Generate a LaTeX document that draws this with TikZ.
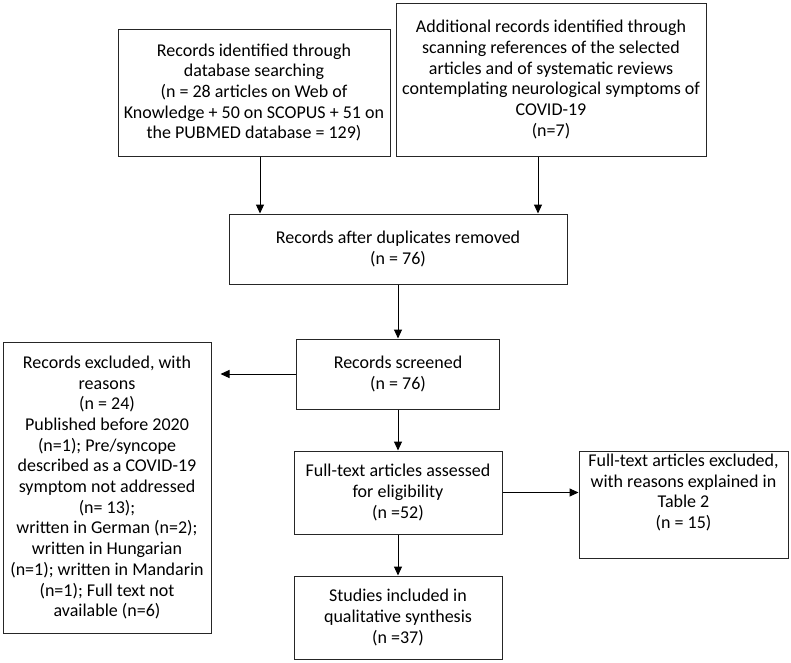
\documentclass[tikz,border=0pt]{standalone}
\usepackage{fontspec}
\setmainfont{Carlito}
\usetikzlibrary{arrows.meta}

\begin{document}
\begin{tikzpicture}[x=1pt, y=-1pt] %Flow diagram
	\tikzstyle{box} = [rectangle, draw=black!85, line width=1pt, align=center, inner sep=0pt, font=\fontsize{18}{20.7}\selectfont]
	\tikzstyle{arrow} = [-{Triangle[length=9pt,width=8pt]}, line width=1pt]
	\useasboundingbox (0,0) rectangle (791,662);
	\node[box, minimum width=272pt, minimum height=127pt] (A) at (254,92.5) {Records identified through\\database searching\\(n = 28 articles on Web of\\Knowledge + 50 on SCOPUS + 51 on\\the PUBMED database = 129)};
	\node[box, minimum width=310pt, minimum height=153pt] (B) at (551,79.5) {Additional records identified through\\scanning references of the selected\\articles and of systematic reviews\\contemplating neurological symptoms of\\COVID-19\\(n=7)};
	\node[box, minimum width=338pt, minimum height=70pt] (C) at (398,249) {Records after duplicates removed\\(n = 76)};
	\node[box, minimum width=203pt, minimum height=70pt] (D) at (398,374) {Records screened\\(n = 76)};
	\node[box, minimum width=208pt, minimum height=291pt] (E) at (107,487.5) {Records excluded, with\\reasons\\(n = 24)\\Published before 2020\\(n=1); Pre/syncope\\described as a COVID-19\\symptom not addressed\\(n= 13);\\written in German (n=2);\\written in Hungarian\\(n=1); written in Mandarin\\(n=1); Full text not\\available (n=6)};
	\node[box, minimum width=208pt, minimum height=83pt] (F) at (398,492.5) {Full-text articles assessed\\for eligibility\\(n =52)};
	\node[box, minimum width=209pt, minimum height=107pt] (G) at (683.5,504.5) {Full-text articles excluded,\\with reasons explained in\\Table 2\\(n = 15)\\[6pt]\mbox{}};
	\node[box, minimum width=208pt, minimum height=83pt] (H) at (398,617.5) {Studies included in\\qualitative synthesis\\(n =37)};
	\draw[arrow] ([xshift=6pt]A.south) -- ([xshift=6pt]A.south |- C.north);
	\draw[arrow] ([xshift=-13pt]B.south) -- ([xshift=-13pt]B.south |- C.north);
	\foreach \a/\b in {C/D, D/F, F/H}
	{
		\draw[arrow] (\a) -- (\b);
	}
	\draw[arrow, shorten >=9pt] (D.west) -- (D.west -| E.east);
	\draw[arrow] (F.east) -- (F.east -| G.west);
\end{tikzpicture}
\end{document}
